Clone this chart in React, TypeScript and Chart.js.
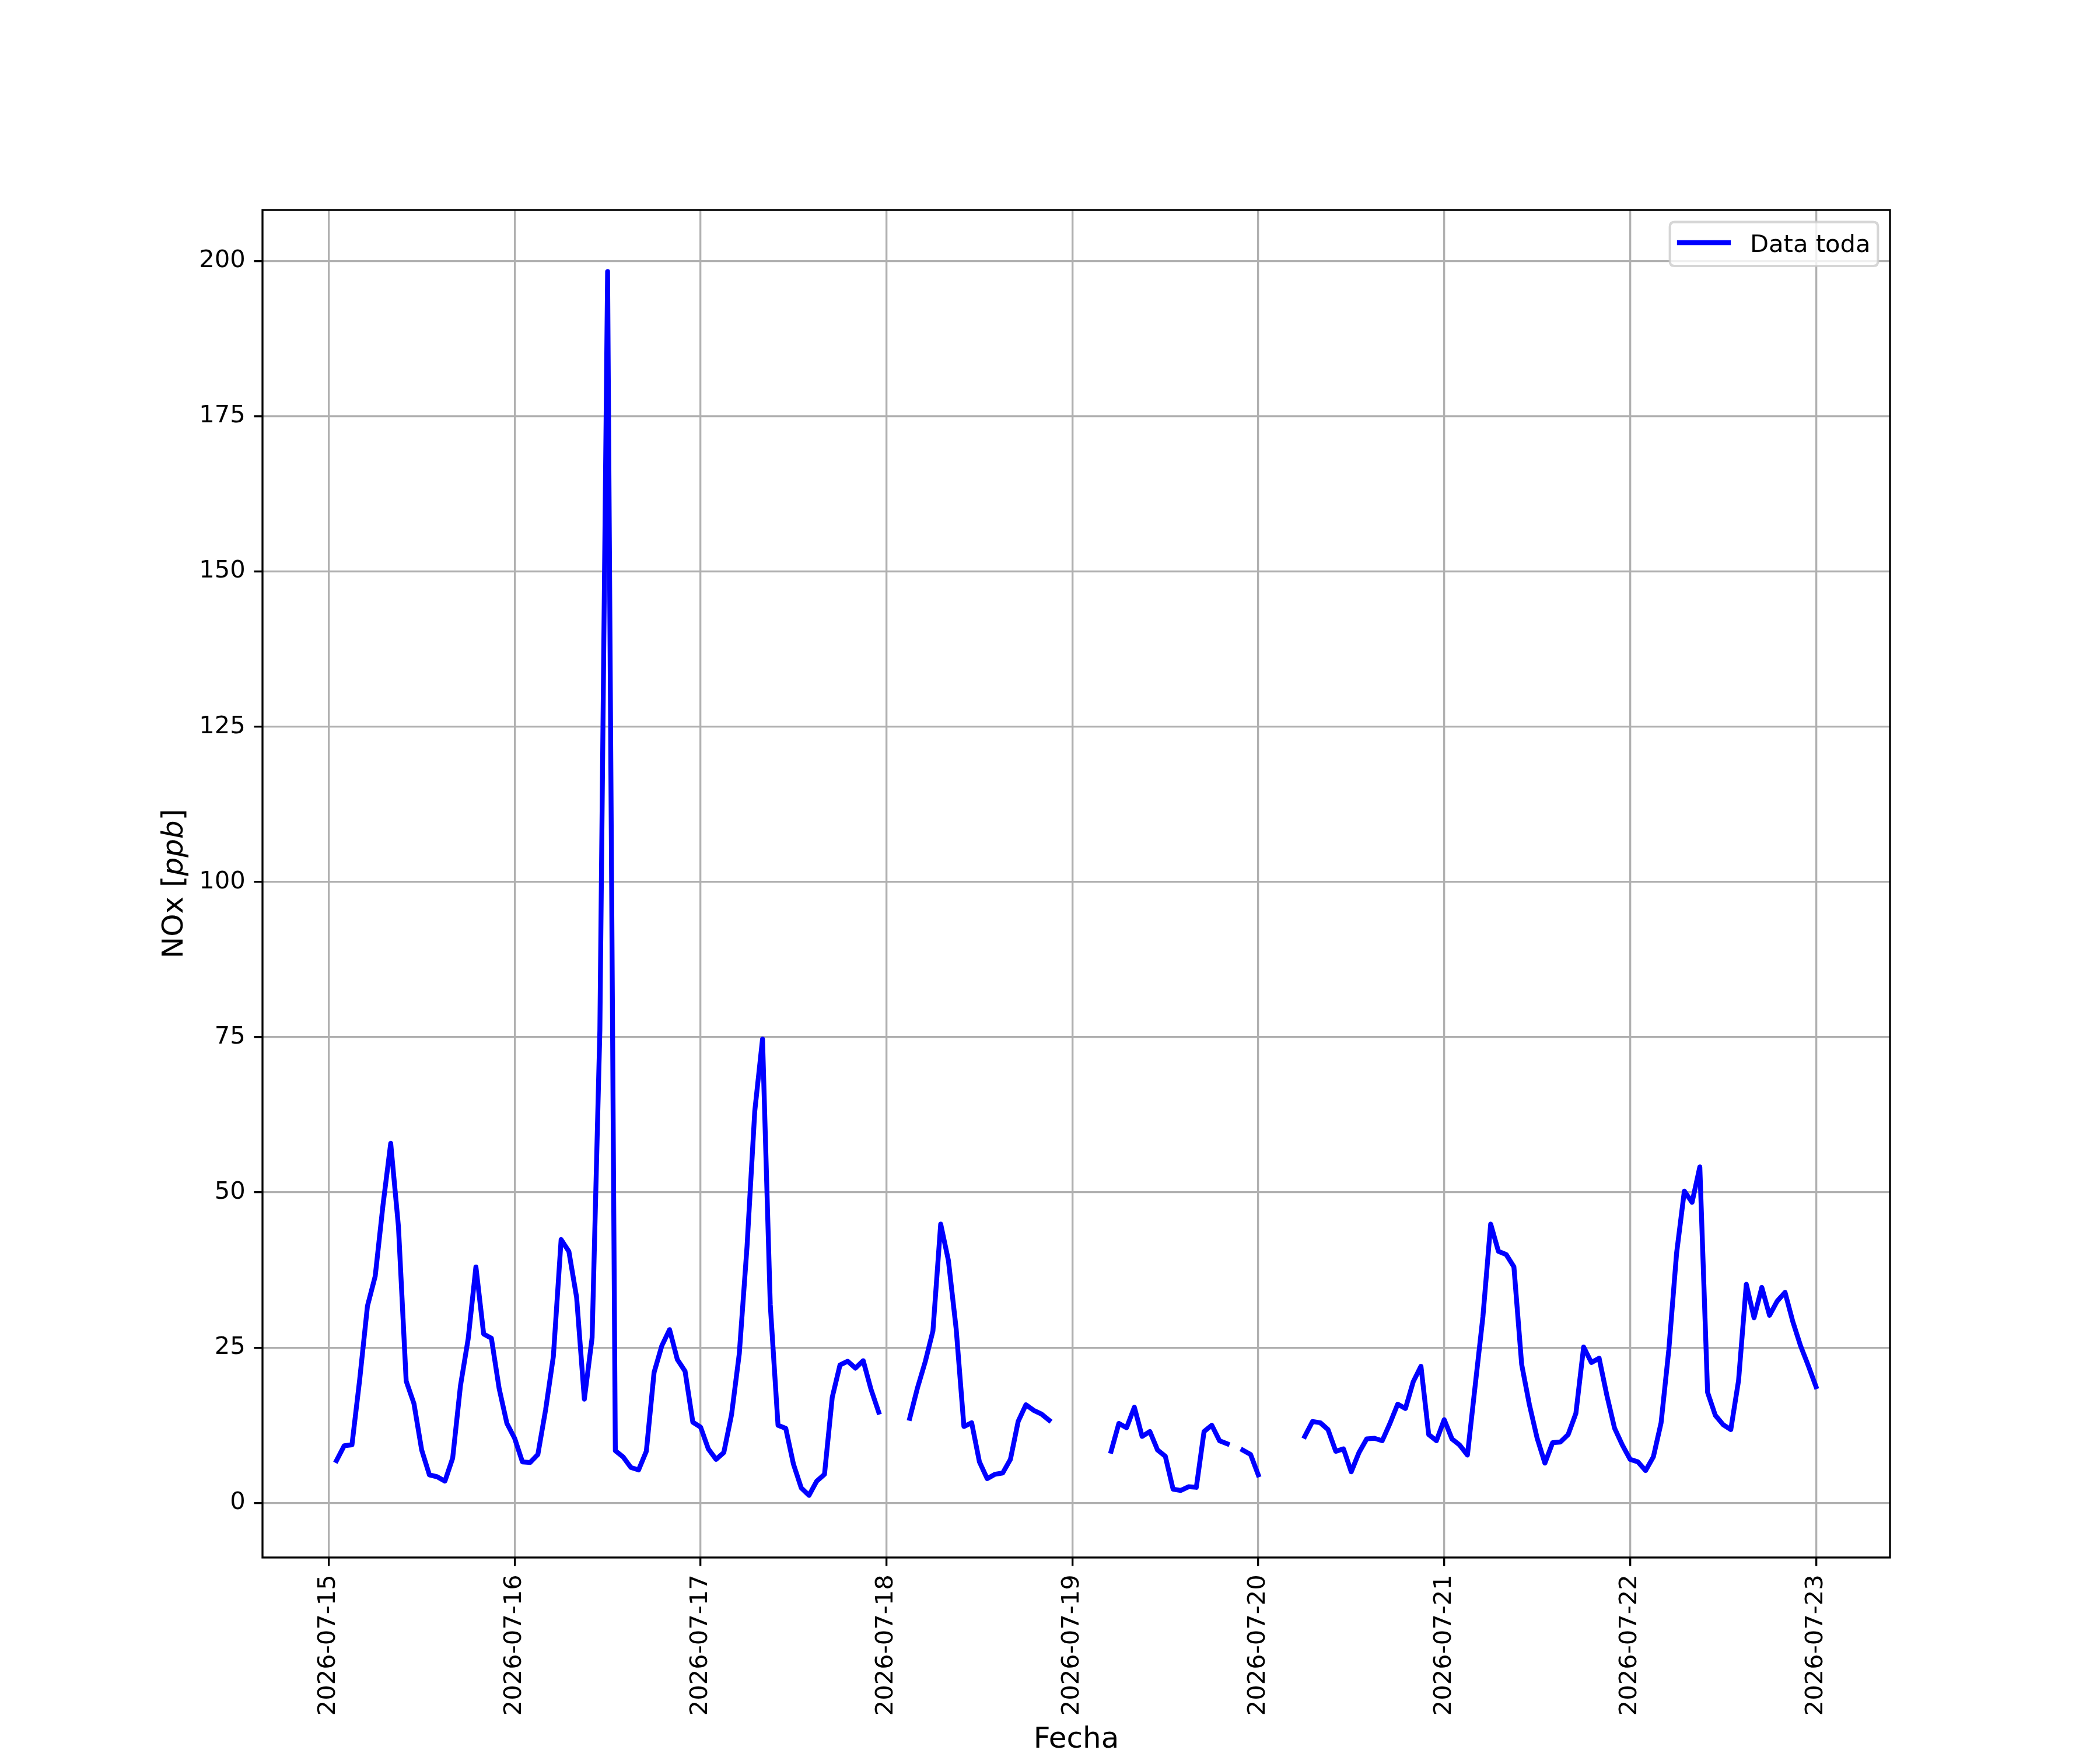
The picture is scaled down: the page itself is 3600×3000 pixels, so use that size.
import React, { useEffect, useRef } from "react";
import { Chart, registerables } from "chart.js";

Chart.register(...registerables);

// ---- data (hourly NOx, ppb) ----
const dayLabels = [
  "2026-07-15", "2026-07-16", "2026-07-17", "2026-07-18", "2026-07-19",
  "2026-07-20", "2026-07-21", "2026-07-22", "2026-07-23",
];
const yTickValues = [0, 25, 50, 75, 100, 125, 150, 175, 200];
const seriesLabel = "Data toda";
const xAxisTitle = "Fecha";
const firstHour = 1; // series starts 2026-07-15 01:00, one value per hour

// 2026-07-15 01:00 .. 23:00
const nox0715 = [6.8, 9.2, 9.35, 19.9, 31.7, 36.5, 47.9, 57.9, 44.5, 19.6, 16.0, 8.5,
  4.5, 4.2, 3.5, 7.2, 18.8, 26.4, 38.0, 27.2, 26.5, 18.4, 12.8];
// 2026-07-16 00:00 .. 23:00
const nox0716 = [10.4, 6.6, 6.5, 7.8, 15.0, 23.6, 42.4, 40.5, 33.1, 16.7, 26.6, 76.0,
  198.3, 8.4, 7.4, 5.7, 5.3, 8.3, 21.0, 25.3, 27.9, 23.1, 21.2, 13.0];
const nox0717 = [12.2, 8.7, 7.0, 8.1, 14.2, 24.0, 41.3, 63.1, 74.7, 31.9, 12.5, 12.0,
  6.2, 2.4, 1.2, 3.5, 4.6, 17.0, 22.2, 22.8, 21.7, 22.9, 18.3, 14.6];
const nox0718 = [null, null, null, 13.6, 18.5, 22.7, 27.7, 44.9, 39.0, 28.0, 12.3, 12.9,
  6.6, 3.9, 4.6, 4.8, 7.0, 13.1, 15.8, 14.9, 14.3, 13.3, null, null];
const nox0719 = [null, null, null, null, null, 8.3, 12.8, 12.1, 15.4, 10.7, 11.5, 8.5,
  7.5, 2.2, 2.0, 2.6, 2.5, 11.5, 12.5, 10.0, 9.5, null, 8.5, 7.8];
const nox0720 = [4.5, null, null, null, null, null, 10.7, 13.1, 12.9, 11.8, 8.3, 8.7,
  5.0, 8.1, 10.3, 10.4, 10.0, 12.8, 15.9, 15.2, 19.5, 22.0, 11.0, 10.0];
const nox0721 = [13.4, 10.3, 9.3, 7.7, 18.9, 30.0, 44.9, 40.5, 40.0, 38.0, 22.3, 15.8,
  10.4, 6.4, 9.7, 9.8, 11.0, 14.4, 25.1, 22.6, 23.3, 17.3, 12.0, 9.3];
const nox0722 = [7.0, 6.6, 5.2, 7.4, 12.9, 24.7, 40.2, 50.2, 48.4, 54.1, 17.8, 14.1,
  12.6, 11.8, 19.7, 35.2, 29.8, 34.7, 30.2, 32.5, 33.9, 29.2, 25.3, 22.1];
// 2026-07-23 00:00
const nox0723 = [18.7];

const noxValues: (number | null)[] = [
  ...nox0715, ...nox0716, ...nox0717, ...nox0718, ...nox0719,
  ...nox0720, ...nox0721, ...nox0722, ...nox0723,
];

// ---- layout (matplotlib 12x10 in @300dpi look) ----
const W = 3600;
const H = 3000;
const AREA = { left: 450, right: 3240, top: 360, bottom: 2670 };
const PT = 300 / 72;
const FONT = "DejaVu Sans";
const TICK_FS = 10 * PT;
const LABEL_FS = 12 * PT;
const LINE_W = 2 * PT;

const hoursSpan = noxValues.length - 1;
const xMin = firstHour - hoursSpan * 0.05;
const xMax = firstHour + hoursSpan + hoursSpan * 0.05;

const decorPlugin = {
  id: "decor",
  afterDatasetsDraw(chart: any) {
    const { ctx, chartArea } = chart;
    ctx.save();
    ctx.strokeStyle = "#000000";
    ctx.lineWidth = 0.8 * PT;
    ctx.strokeRect(chartArea.left, chartArea.top, chartArea.right - chartArea.left, chartArea.bottom - chartArea.top);
    ctx.restore();
  },
  afterDraw(chart: any) {
    const { ctx, chartArea } = chart;
    ctx.save();
    // legend
    const lx = 2862.7, ly = 380.7, lw = 356.6, lh = 75.3, r = 8;
    ctx.beginPath();
    ctx.moveTo(lx + r, ly);
    ctx.lineTo(lx + lw - r, ly);
    ctx.quadraticCurveTo(lx + lw, ly, lx + lw, ly + r);
    ctx.lineTo(lx + lw, ly + lh - r);
    ctx.quadraticCurveTo(lx + lw, ly + lh, lx + lw - r, ly + lh);
    ctx.lineTo(lx + r, ly + lh);
    ctx.quadraticCurveTo(lx, ly + lh, lx, ly + lh - r);
    ctx.lineTo(lx, ly + r);
    ctx.quadraticCurveTo(lx, ly, lx + r, ly);
    ctx.closePath();
    ctx.fillStyle = "rgba(255,255,255,0.8)";
    ctx.fill();
    ctx.strokeStyle = "rgba(204,204,204,0.8)";
    ctx.lineWidth = 1.0 * PT;
    ctx.stroke();
    ctx.beginPath();
    ctx.moveTo(2879, 416);
    ctx.lineTo(2963, 416);
    ctx.strokeStyle = "#0000ff";
    ctx.lineWidth = LINE_W;
    ctx.lineCap = "square";
    ctx.stroke();
    ctx.fillStyle = "#000000";
    ctx.font = `${TICK_FS}px "${FONT}"`;
    ctx.textAlign = "left";
    ctx.textBaseline = "alphabetic";
    ctx.fillText(seriesLabel, 3000, 431.5);

    // x axis title
    ctx.font = `${LABEL_FS}px "${FONT}"`;
    ctx.textAlign = "center";
    ctx.fillText(xAxisTitle, (chartArea.left + chartArea.right) / 2, 2996);

    // y axis title with italic unit
    const parts = [
      { t: "NOx [", f: `${LABEL_FS}px "${FONT}"` },
      { t: "ppb", f: `italic ${LABEL_FS}px "${FONT}"` },
      { t: "]", f: `${LABEL_FS}px "${FONT}"` },
    ];
    let total = 0;
    const widths = parts.map((p) => {
      ctx.font = p.f;
      const w = ctx.measureText(p.t).width;
      total += w;
      return w;
    });
    ctx.translate(313, (chartArea.top + chartArea.bottom) / 2);
    ctx.rotate(-Math.PI / 2);
    ctx.textAlign = "left";
    let cx = -total / 2;
    parts.forEach((p, i) => {
      ctx.font = p.f;
      ctx.fillText(p.t, cx, 0);
      cx += widths[i];
    });
    ctx.restore();
  },
};

export default function App() {
  const ref = useRef<HTMLCanvasElement | null>(null);

  useEffect(() => {
    document.body.style.margin = "0";
    const canvas = ref.current;
    if (!canvas) return;
    const points = noxValues.map((v, i) => ({ x: firstHour + i, y: v }));

    const chart = new Chart(canvas, {
      type: "line",
      data: {
        datasets: [
          {
            label: seriesLabel,
            data: points as any,
            borderColor: "#0000ff",
            backgroundColor: "#0000ff",
            borderWidth: LINE_W,
            borderCapStyle: "square",
            borderJoinStyle: "round",
            pointRadius: 0,
            tension: 0,
            spanGaps: false,
            fill: false,
          },
        ],
      },
      options: {
        animation: false,
        responsive: false,
        devicePixelRatio: 1,
        layout: {
          autoPadding: false,
          padding: { left: 0, top: AREA.top, right: W - AREA.right, bottom: 0 },
        } as any,
        plugins: {
          legend: { display: false },
          tooltip: { enabled: false },
        },
        scales: {
          x: {
            type: "linear",
            min: xMin,
            max: xMax,
            afterBuildTicks: (axis: any) => {
              axis.ticks = dayLabels.map((_, i) => ({ value: i * 24 }));
            },
            afterFit: (axis: any) => {
              axis.height = H - AREA.bottom;
            },
            grid: {
              color: "#b0b0b0",
              lineWidth: 0.8 * PT,
              drawTicks: true,
              tickLength: 3.5 * PT,
              tickColor: "#000000",
              tickWidth: 0.8 * PT,
            } as any,
            border: { display: false },
            ticks: {
              autoSkip: false,
              minRotation: 90,
              maxRotation: 90,
              padding: 3.5 * PT,
              color: "#000000",
              font: { family: FONT, size: TICK_FS },
              callback: (value: any) => dayLabels[Math.round(Number(value) / 24)] ?? "",
            },
          },
          y: {
            type: "linear",
            min: -8.8,
            max: 208.2,
            afterBuildTicks: (axis: any) => {
              axis.ticks = yTickValues.map((v) => ({ value: v }));
            },
            afterFit: (axis: any) => {
              axis.width = AREA.left;
            },
            grid: {
              color: "#b0b0b0",
              lineWidth: 0.8 * PT,
              drawTicks: true,
              tickLength: 3.5 * PT,
              tickColor: "#000000",
              tickWidth: 0.8 * PT,
            } as any,
            border: { display: false },
            ticks: {
              padding: 3.5 * PT,
              color: "#000000",
              font: { family: FONT, size: TICK_FS },
              callback: (value: any) => String(value),
            },
          },
        },
      },
      plugins: [decorPlugin],
    });

    return () => {
      chart.destroy();
    };
  }, []);

  return (
    <canvas
      ref={ref}
      width={W}
      height={H}
      style={{ display: "block", width: W + "px", height: H + "px" }}
    />
  );
}
